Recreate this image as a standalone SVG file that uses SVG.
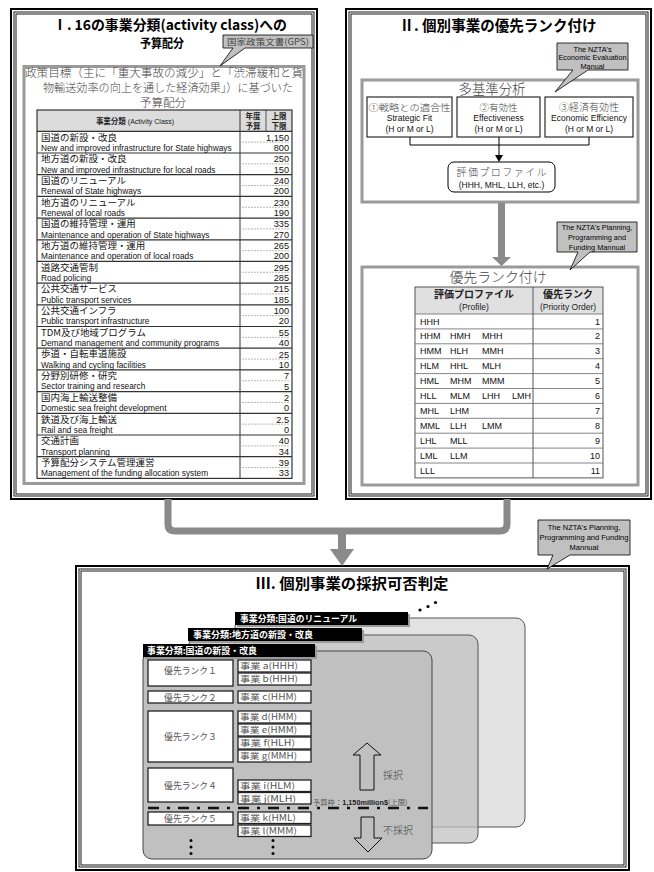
<svg xmlns="http://www.w3.org/2000/svg" width="654" height="872" viewBox="0 0 654 872">
<style>
.jp{font-family:"Noto Sans CJK JP","Noto Sans CJK SC",sans-serif}
.en{font-family:"Liberation Sans",Arial,sans-serif}
.b1{fill:none;stroke:#000;stroke-width:2}
.b2{fill:none;stroke:#000;stroke-width:0.9}
.gbox{fill:#fff;stroke:#9a9a9a;stroke-width:3}
.ttl{font-family:"Noto Sans CJK JP","Noto Sans CJK SC",sans-serif;font-weight:700;fill:#000}
.min{font-family:"Noto Sans CJK JP","Noto Sans CJK SC",sans-serif;fill:#444;font-weight:300}
.call{fill:#c0c0c0;stroke:#000;stroke-width:0.8}
.callt{font-family:"Liberation Sans",Arial,sans-serif;fill:#000;text-anchor:middle}
.ljp{font-family:"Noto Sans CJK JP","Noto Sans CJK SC",sans-serif;font-size:8.8px;fill:#111}
.len{font-family:"Liberation Sans",Arial,sans-serif;font-size:9.4px;fill:#111}
.num{font-family:"Liberation Sans",Arial,sans-serif;font-size:9.2px;fill:#111;text-anchor:end}
.sep{stroke:#333;stroke-width:1.2}
.dsh{stroke:#999;stroke-width:0.7;stroke-dasharray:2 1}
.rl{stroke:#666;stroke-width:0.8}
.code{font-family:"Liberation Sans",Arial,sans-serif;font-size:9px;fill:#111}
.box{fill:#fff;stroke:#222;stroke-width:1.3}
.rk{font-family:"Noto Sans CJK JP","Noto Sans CJK SC",sans-serif;font-size:8.8px;fill:#555;text-anchor:middle}
.jg{font-family:"Noto Sans CJK JP","Noto Sans CJK SC",sans-serif;font-size:8.5px;fill:#555}
.tab{fill:#000}
.tabs{fill:#9a9a9a}
.tabt{font-family:"Noto Sans CJK JP","Noto Sans CJK SC",sans-serif;font-weight:700;font-size:9px;fill:#fff}
</style>

<!-- Panel I -->
<g id="panel-1">
  <rect class="b1" x="11" y="9" width="306" height="490"/>
  <rect class="b2" x="14" y="12" width="300" height="484"/>
  <rect class="b2" x="16" y="14" width="296" height="480"/>
  <text class="ttl" x="170" y="30" font-size="14" text-anchor="middle" textLength="234" lengthAdjust="spacingAndGlyphs">Ⅰ. 16の事業分類(activity class)への</text>
  <text class="ttl" x="162" y="48" font-size="12.5" text-anchor="middle" textLength="44" lengthAdjust="spacingAndGlyphs">予算配分</text>
</g>

<g id="budget-box">
  <rect class="gbox" x="24" y="66.5" width="280" height="417"/>
  <text class="min" font-size="11.6" x="164" y="76.5" text-anchor="middle" textLength="278" lengthAdjust="spacingAndGlyphs">政策目標（主に「重大事故の減少」と「渋滞緩和と貨</text>
  <text class="min" font-size="11.6" x="168" y="92.4" text-anchor="middle" textLength="250" lengthAdjust="spacingAndGlyphs">物輸送効率の向上を通した経済効果」）に基づいた</text>
  <text class="min" font-size="11.6" x="163" y="107.4" text-anchor="middle">予算配分</text>
</g>

<g id="callout-gps">
  <path class="call" d="M223,35 H313 V48 H245 L220,66 L233,48 H223 Z"/>
  <text class="jp" x="268" y="45" font-size="8.5" text-anchor="middle" fill="#444" textLength="82" lengthAdjust="spacingAndGlyphs">国家政策文書(GPS)</text>
</g>

<g id="budget-table">
  <rect x="37" y="110" width="255" height="21.3" fill="#dcdcdc"/>
  <rect x="37" y="110" width="255" height="368.4" fill="none" stroke="#333" stroke-width="1.2"/>
  <line x1="240" y1="110" x2="240" y2="478.4" stroke="#333" stroke-width="1"/>
  <line x1="266" y1="110" x2="266" y2="131.3" stroke="#333" stroke-width="0.8"/>
  <text class="jp" x="135" y="124" font-size="7.5" text-anchor="middle" fill="#222"><tspan font-weight="700">事業分類</tspan><tspan font-family="Liberation Sans, Arial, sans-serif" font-size="7"> (Activity Class)</tspan></text>
  <text class="jp" x="253" y="119" font-size="7.5" font-weight="700" text-anchor="middle" fill="#222">年度</text>
  <text class="jp" x="253" y="128.5" font-size="7.5" font-weight="700" text-anchor="middle" fill="#222">予算</text>
  <text class="jp" x="279" y="119" font-size="7.5" font-weight="700" text-anchor="middle" fill="#222">上限</text>
  <text class="jp" x="279" y="128.5" font-size="7.5" font-weight="700" text-anchor="middle" fill="#222">下限</text>
  <g>
    <line class="sep" x1="37" y1="131.3" x2="292" y2="131.3"/>
    <line class="sep" x1="37" y1="153.0" x2="292" y2="153.0"/>
    <line class="sep" x1="37" y1="174.7" x2="292" y2="174.7"/>
    <line class="sep" x1="37" y1="196.4" x2="292" y2="196.4"/>
    <line class="sep" x1="37" y1="218.1" x2="292" y2="218.1"/>
    <line class="sep" x1="37" y1="239.8" x2="292" y2="239.8"/>
    <line class="sep" x1="37" y1="261.4" x2="292" y2="261.4"/>
    <line class="sep" x1="37" y1="283.1" x2="292" y2="283.1"/>
    <line class="sep" x1="37" y1="304.8" x2="292" y2="304.8"/>
    <line class="sep" x1="37" y1="326.5" x2="292" y2="326.5"/>
    <line class="sep" x1="37" y1="348.2" x2="292" y2="348.2"/>
    <line class="sep" x1="37" y1="369.9" x2="292" y2="369.9"/>
    <line class="sep" x1="37" y1="391.6" x2="292" y2="391.6"/>
    <line class="sep" x1="37" y1="413.3" x2="292" y2="413.3"/>
    <line class="sep" x1="37" y1="435.0" x2="292" y2="435.0"/>
    <line class="sep" x1="37" y1="456.7" x2="292" y2="456.7"/>
  </g>
  <g>
    <line class="dsh" x1="242" y1="142.15" x2="290" y2="142.15"/>
    <line class="dsh" x1="242" y1="163.85" x2="290" y2="163.85"/>
    <line class="dsh" x1="242" y1="185.55" x2="290" y2="185.55"/>
    <line class="dsh" x1="242" y1="207.25" x2="290" y2="207.25"/>
    <line class="dsh" x1="242" y1="228.95" x2="290" y2="228.95"/>
    <line class="dsh" x1="242" y1="250.65" x2="290" y2="250.65"/>
    <line class="dsh" x1="242" y1="272.25" x2="290" y2="272.25"/>
    <line class="dsh" x1="242" y1="293.95" x2="290" y2="293.95"/>
    <line class="dsh" x1="242" y1="315.65" x2="290" y2="315.65"/>
    <line class="dsh" x1="242" y1="337.35" x2="290" y2="337.35"/>
    <line class="dsh" x1="242" y1="359.05" x2="290" y2="359.05"/>
    <line class="dsh" x1="242" y1="380.75" x2="290" y2="380.75"/>
    <line class="dsh" x1="242" y1="402.45" x2="290" y2="402.45"/>
    <line class="dsh" x1="242" y1="424.15" x2="290" y2="424.15"/>
    <line class="dsh" x1="242" y1="445.85" x2="290" y2="445.85"/>
    <line class="dsh" x1="242" y1="467.55" x2="290" y2="467.55"/>
  </g>
  <g class="ljp" transform="translate(41,0) scale(1.08,1)">
    <text x="0" y="140.6">国道の新設・改良</text>
    <text x="0" y="162.3">地方道の新設・改良</text>
    <text x="0" y="184.0">国道のリニューアル</text>
    <text x="0" y="205.7">地方道のリニューアル</text>
    <text x="0" y="227.4">国道の維持管理・運用</text>
    <text x="0" y="249.1">地方道の維持管理・運用</text>
    <text x="0" y="270.7">道路交通管制</text>
    <text x="0" y="292.4">公共交通サービス</text>
    <text x="0" y="314.1">公共交通インフラ</text>
    <text x="0" y="335.8">TDM及び地域プログラム</text>
    <text x="0" y="357.5">歩道・自転車道施設</text>
    <text x="0" y="379.2">分野別研修・研究</text>
    <text x="0" y="400.9">国内海上輸送整備</text>
    <text x="0" y="422.6">鉄道及び海上輸送</text>
    <text x="0" y="444.3">交通計画</text>
    <text x="0" y="466.0">予算配分システム管理運営</text>
  </g>
  <g class="len" transform="translate(41,0) scale(0.885,1)">
    <text x="0" y="150.9">New and improved infrastructure for State highways</text>
    <text x="0" y="172.6">New and improved infrastructure for local roads</text>
    <text x="0" y="194.3">Renewal of State highways</text>
    <text x="0" y="216.0">Renewal of local roads</text>
    <text x="0" y="237.7">Maintenance and operation of State highways</text>
    <text x="0" y="259.4">Maintenance and operation of local roads</text>
    <text x="0" y="281.0">Road policing</text>
    <text x="0" y="302.7">Public transport services</text>
    <text x="0" y="324.4">Public transport infrastructure</text>
    <text x="0" y="346.1">Demand management and community programs</text>
    <text x="0" y="367.8">Walking and cycling facilities</text>
    <text x="0" y="389.5">Sector training and research</text>
    <text x="0" y="411.2">Domestic sea freight development</text>
    <text x="0" y="432.9">Rail and sea freight</text>
    <text x="0" y="454.6">Transport planning</text>
    <text x="0" y="476.3">Management of the funding allocation system</text>
  </g>
  <g class="num">
    <text x="289" y="140.6">1,150</text><text x="289" y="150.9">800</text>
    <text x="289" y="162.3">250</text><text x="289" y="172.6">150</text>
    <text x="289" y="184.0">240</text><text x="289" y="194.3">200</text>
    <text x="289" y="205.7">230</text><text x="289" y="216.0">190</text>
    <text x="289" y="227.4">335</text><text x="289" y="237.7">270</text>
    <text x="289" y="249.1">265</text><text x="289" y="259.4">200</text>
    <text x="289" y="270.7">295</text><text x="289" y="281.0">285</text>
    <text x="289" y="292.4">215</text><text x="289" y="302.7">185</text>
    <text x="289" y="314.1">100</text><text x="289" y="324.4">20</text>
    <text x="289" y="335.8">55</text><text x="289" y="346.1">40</text>
    <text x="289" y="357.5">25</text><text x="289" y="367.8">10</text>
    <text x="289" y="379.2">7</text><text x="289" y="389.5">5</text>
    <text x="289" y="400.9">2</text><text x="289" y="411.2">0</text>
    <text x="289" y="422.6">2.5</text><text x="289" y="432.9">0</text>
    <text x="289" y="444.3">40</text><text x="289" y="454.6">34</text>
    <text x="289" y="466.0">39</text><text x="289" y="476.3">33</text>
  </g>
</g>

<!-- Panel II -->
<g id="panel-2">
  <rect class="b1" x="346" y="9" width="305" height="490"/>
  <rect class="b2" x="349" y="12" width="299" height="484"/>
  <rect class="b2" x="351" y="14" width="295" height="480"/>
  <text class="ttl" x="498" y="30.5" font-size="15" text-anchor="middle" textLength="197" lengthAdjust="spacingAndGlyphs">Ⅱ. 個別事業の優先ランク付け</text>
</g>

<g id="multi-criteria">
  <rect class="gbox" x="362" y="80" width="276" height="122"/>
  <text class="min" x="492" y="94" font-size="14" text-anchor="middle" textLength="67" lengthAdjust="spacingAndGlyphs">多基準分析</text>
</g>

<g id="criterion-1">
  <rect x="367" y="97" width="85" height="40" fill="#fff" stroke="#000" stroke-width="1"/>
  <text class="min" x="409.5" y="110.5" font-size="9.5" text-anchor="middle" textLength="82" lengthAdjust="spacingAndGlyphs">①戦略との適合性</text>
  <text class="en" x="409.5" y="121" font-size="8.5" text-anchor="middle" fill="#111">Strategic Fit</text>
  <text class="en" x="409.5" y="131.5" font-size="8.5" text-anchor="middle" fill="#111">(H or M or L)</text>
</g>
<g id="criterion-2">
  <rect x="457" y="97" width="83" height="40" fill="#fff" stroke="#000" stroke-width="1"/>
  <text class="min" x="498.5" y="110.5" font-size="9.5" text-anchor="middle">②有効性</text>
  <text class="en" x="498.5" y="121" font-size="8.5" text-anchor="middle" fill="#111">Effectiveness</text>
  <text class="en" x="498.5" y="131.5" font-size="8.5" text-anchor="middle" fill="#111">(H or M or L)</text>
</g>
<g id="criterion-3">
  <rect x="545" y="97" width="88" height="40" fill="#fff" stroke="#000" stroke-width="1"/>
  <text class="min" x="589" y="110.5" font-size="10" text-anchor="middle">③経済有効性</text>
  <text class="en" x="589" y="121" font-size="8.5" text-anchor="middle" fill="#111">Economic Efficiency</text>
  <text class="en" x="589" y="131.5" font-size="8.5" text-anchor="middle" fill="#111">(H or M or L)</text>
</g>

<g id="profile">
  <rect x="448" y="162" width="107" height="30" rx="6" fill="#fff" stroke="#000" stroke-width="1"/>
  <text class="min" x="501.5" y="175.5" font-size="10" text-anchor="middle" textLength="90" lengthAdjust="spacing">評価プロファイル</text>
  <text class="en" x="501.5" y="188" font-size="8.5" text-anchor="middle" fill="#111">(HHH, MHL, LLH, etc.)</text>
</g>

<g id="callout-eem">
  <path class="call" d="M557,43 H628 V70 H588 L555,92 L573,70 H557 Z"/>
  <text class="callt" x="592.5" y="51.5" font-size="7.3">The NZTA's</text>
  <text class="callt" x="592.5" y="60" font-size="7.3" textLength="68" lengthAdjust="spacingAndGlyphs">Economic Evaluation</text>
  <text class="callt" x="592.5" y="68.5" font-size="7.3">Manual</text>
</g>

<g id="priority-ranking">
  <rect class="gbox" x="362" y="267" width="276" height="218"/>
  <text class="min" x="498" y="282" font-size="14" text-anchor="middle" textLength="97" lengthAdjust="spacingAndGlyphs">優先ランク付け</text>
  <rect x="415" y="287" width="188" height="27" fill="#e0e0e0"/>
  <rect x="415" y="287" width="188" height="190.9" fill="none" stroke="#555" stroke-width="1"/>
  <line x1="533" y1="287" x2="533" y2="477.9" stroke="#555" stroke-width="1"/>
  <g>
    <line class="rl" x1="415" y1="314" x2="603" y2="314"/>
    <line class="rl" x1="415" y1="328.9" x2="603" y2="328.9"/>
    <line class="rl" x1="415" y1="343.8" x2="603" y2="343.8"/>
    <line class="rl" x1="415" y1="358.7" x2="603" y2="358.7"/>
    <line class="rl" x1="415" y1="373.6" x2="603" y2="373.6"/>
    <line class="rl" x1="415" y1="388.5" x2="603" y2="388.5"/>
    <line class="rl" x1="415" y1="403.4" x2="603" y2="403.4"/>
    <line class="rl" x1="415" y1="418.3" x2="603" y2="418.3"/>
    <line class="rl" x1="415" y1="433.2" x2="603" y2="433.2"/>
    <line class="rl" x1="415" y1="448.1" x2="603" y2="448.1"/>
    <line class="rl" x1="415" y1="463" x2="603" y2="463"/>
  </g>
  <text class="jp" x="474" y="297.5" font-size="10" font-weight="700" text-anchor="middle" fill="#222">評価プロファイル</text>
  <text class="en" x="474" y="310" font-size="8.5" text-anchor="middle" fill="#222">(Profile)</text>
  <text class="jp" x="568" y="297.5" font-size="10" font-weight="700" text-anchor="middle" fill="#222">優先ランク</text>
  <text class="en" x="568" y="310" font-size="8.5" text-anchor="middle" fill="#222">(Priority Order)</text>
  <g class="code">
    <text x="420" y="324.5">HHH</text>
    <text x="420" y="339.4">HHM</text><text x="450" y="339.4">HMH</text><text x="482" y="339.4">MHH</text>
    <text x="420" y="354.3">HMM</text><text x="450" y="354.3">HLH</text><text x="482" y="354.3">MMH</text>
    <text x="420" y="369.2">HLM</text><text x="450" y="369.2">HHL</text><text x="482" y="369.2">MLH</text>
    <text x="420" y="384.1">HML</text><text x="450" y="384.1">MHM</text><text x="482" y="384.1">MMM</text>
    <text x="420" y="399.0">HLL</text><text x="450" y="399.0">MLM</text><text x="482" y="399.0">LHH</text><text x="512" y="399.0">LMH</text>
    <text x="420" y="413.9">MHL</text><text x="450" y="413.9">LHM</text>
    <text x="420" y="428.8">MML</text><text x="450" y="428.8">LLH</text><text x="482" y="428.8">LMM</text>
    <text x="420" y="443.7">LHL</text><text x="450" y="443.7">MLL</text>
    <text x="420" y="458.6">LML</text><text x="450" y="458.6">LLM</text>
    <text x="420" y="473.5">LLL</text>
  </g>
  <g class="code" text-anchor="end">
    <text x="600" y="324.5">1</text><text x="600" y="339.4">2</text><text x="600" y="354.3">3</text>
    <text x="600" y="369.2">4</text><text x="600" y="384.1">5</text><text x="600" y="399.0">6</text>
    <text x="600" y="413.9">7</text><text x="600" y="428.8">8</text><text x="600" y="443.7">9</text>
    <text x="600" y="458.6">10</text><text x="600" y="473.5">11</text>
  </g>
</g>

<g id="callout-ppfm-1">
  <path class="call" d="M557,222 H637 V252 H590 L570,270 L578,252 H557 Z"/>
  <text class="callt" x="597" y="230" font-size="7.3">The NZTA's Planning,</text>
  <text class="callt" x="597" y="240" font-size="7.3">Programming and</text>
  <text class="callt" x="597" y="250" font-size="7.3">Funding Mannual</text>
</g>

<!-- Panel III -->
<g id="panel-3">
  <rect class="b1" x="76" y="566" width="553" height="304"/>
  <rect class="b2" x="79" y="569" width="547" height="298"/>
  <rect class="b2" x="81" y="571" width="543" height="294"/>
  <text class="ttl" x="352" y="588.5" font-size="15" text-anchor="middle" textLength="193" lengthAdjust="spacingAndGlyphs">Ⅲ. 個別事業の採択可否判定</text>
  <circle cx="420" cy="610" r="1.6" fill="#000"/>
  <circle cx="428" cy="606.5" r="1.6" fill="#000"/>
  <circle cx="435.5" cy="602.5" r="1.6" fill="#000"/>
</g>

<g id="callout-ppfm-2">
  <path class="call" d="M538,520 H630 V555 H570 L547,569 L553,555 H538 Z"/>
  <text class="callt" x="584" y="529.5" font-size="7.5">The NZTA's Planning,</text>
  <text class="callt" x="584" y="539.5" font-size="7.5">Programming and Funding</text>
  <text class="callt" x="584" y="549.5" font-size="7.5">Mannual</text>
</g>

<g id="card-3">
  <rect x="235" y="618" width="290" height="209" rx="9" fill="#e3e3e3" stroke="#555" stroke-width="1"/>
  <rect class="tabs" x="237" y="614" width="173" height="13"/>
  <rect class="tab" x="235" y="612" width="173" height="13"/>
  <text class="tabt" x="240" y="622" textLength="117" lengthAdjust="spacingAndGlyphs">事業分類:国道のリニューアル</text>
</g>

<g id="card-2">
  <rect x="189" y="635" width="289" height="208" rx="9" fill="#c2c2c2" fill-opacity="0.75" stroke="#555" stroke-width="1"/>
  <rect class="tabs" x="190" y="630" width="174" height="13"/>
  <rect class="tab" x="188" y="628" width="174" height="13"/>
  <text class="tabt" x="193" y="638" textLength="120" lengthAdjust="spacingAndGlyphs">事業分類:地方道の新設・改良</text>
</g>

<g id="card-1">
  <rect x="143" y="651" width="289" height="208" rx="9" fill="#c0c0c0" stroke="#444" stroke-width="1"/>
  <rect class="tabs" x="145" y="646" width="172" height="13"/>
  <rect class="tab" x="143" y="644" width="172" height="13"/>
  <text class="tabt" x="147" y="654" textLength="110" lengthAdjust="spacingAndGlyphs">事業分類:国道の新設・改良</text>
</g>

<g id="rank-1">
  <rect class="box" x="148" y="660" width="85" height="26"/>
  <text class="rk" x="190.5" y="674">優先ランク１</text>
  <rect class="box" x="238" y="660" width="73" height="12"/>
  <text class="jg" x="240" y="669.3" textLength="58" lengthAdjust="spacingAndGlyphs">事業 a(HHH)</text>
  <rect class="box" x="238" y="673" width="73" height="12"/>
  <text class="jg" x="240" y="682.3" textLength="58" lengthAdjust="spacingAndGlyphs">事業 b(HHH)</text>
</g>
<g id="rank-2">
  <rect class="box" x="148" y="691" width="85" height="12"/>
  <text class="rk" x="190.5" y="700.5">優先ランク２</text>
  <rect class="box" x="238" y="691" width="73" height="12"/>
  <text class="jg" x="240" y="700.3" textLength="57" lengthAdjust="spacingAndGlyphs">事業 c(HHM)</text>
</g>
<g id="rank-3">
  <rect class="box" x="148" y="711" width="85" height="51"/>
  <text class="rk" x="190.5" y="740">優先ランク３</text>
  <rect class="box" x="238" y="711" width="73" height="12"/>
  <text class="jg" x="240" y="720.3" textLength="57" lengthAdjust="spacingAndGlyphs">事業 d(HMM)</text>
  <rect class="box" x="238" y="724" width="73" height="12"/>
  <text class="jg" x="240" y="733.3" textLength="57" lengthAdjust="spacingAndGlyphs">事業 e(HMM)</text>
  <rect class="box" x="238" y="737" width="73" height="12"/>
  <text class="jg" x="240" y="746.3" textLength="55" lengthAdjust="spacingAndGlyphs">事業 f(HLH)</text>
  <rect class="box" x="238" y="750" width="73" height="12"/>
  <text class="jg" x="240" y="759.3" textLength="57" lengthAdjust="spacingAndGlyphs">事業 g(MMH)</text>
</g>
<g id="rank-4">
  <rect class="box" x="148" y="768" width="85" height="34"/>
  <text class="rk" x="190.5" y="788.5">優先ランク４</text>
  <rect class="box" x="238" y="780" width="73" height="11.5"/>
  <text class="jg" x="240" y="789" textLength="55" lengthAdjust="spacingAndGlyphs">事業 i(HLM)</text>
  <rect class="box" x="238" y="792.5" width="73" height="11.5"/>
  <text class="jg" x="240" y="801.5" textLength="56" lengthAdjust="spacingAndGlyphs">事業 j(MLH)</text>
</g>
<g id="rank-5">
  <rect class="box" x="148" y="812" width="85" height="13"/>
  <text class="rk" x="190.5" y="821.8">優先ランク５</text>
  <rect class="box" x="238" y="812" width="73" height="11.5"/>
  <text class="jg" x="240" y="821" textLength="56" lengthAdjust="spacingAndGlyphs">事業 k(HML)</text>
  <rect class="box" x="238" y="825" width="73" height="11.5"/>
  <text class="jg" x="240" y="834" textLength="57" lengthAdjust="spacingAndGlyphs">事業 l(MMM)</text>
</g>
<g id="continuation-dots" fill="#000">
  <circle cx="191" cy="840.5" r="1.5"/><circle cx="191" cy="847" r="1.5"/><circle cx="191" cy="853.5" r="1.5"/>
  <circle cx="273" cy="840.5" r="1.5"/><circle cx="273" cy="847" r="1.5"/><circle cx="273" cy="853.5" r="1.5"/>
</g>

<g id="budget-line">
  <line x1="148" y1="808" x2="428" y2="808" stroke="#111" stroke-width="2.5" stroke-dasharray="11 8 3 8"/>
  <text x="313" y="804.5" font-size="7.3" fill="#555" class="jp">予算枠：<tspan class="en" font-weight="700" fill="#222">1,150million$</tspan>(上限)</text>
</g>
<g id="adopt">
  <polygon points="367,743 381,755 374,755 374,790 360,790 360,755 353,755" fill="none" stroke="#111" stroke-width="1"/>
  <text class="min" x="383" y="779" font-size="10" fill="#555">採択</text>
</g>
<g id="reject">
  <polygon points="361,817 374,817 374,838 382,838 368,852 354,838 361,838" fill="none" stroke="#111" stroke-width="1"/>
  <text class="min" x="383" y="834" font-size="10" fill="#555">不採択</text>
</g>

<!-- Connectors -->
<g id="connectors">
  <path d="M168,499 V524 Q168,531 175,531 H500 Q507,531 507,524 V499" fill="none" stroke="#8a8a8a" stroke-width="7"/>
  <path d="M342,531 V550" fill="none" stroke="#8a8a8a" stroke-width="8"/>
  <polygon points="330,549 354,549 342,566" fill="#8a8a8a"/>
  <path d="M410,137 V145 H589 V137 M499,137 V156" fill="none" stroke="#000" stroke-width="1"/>
  <polygon points="495,155 503,155 499,162" fill="#000"/>
  <line x1="501.5" y1="203" x2="501.5" y2="258" stroke="#8a8a8a" stroke-width="7"/>
  <polygon points="492,257 511,257 501.5,266" fill="#8a8a8a"/>
</g>
</svg>
